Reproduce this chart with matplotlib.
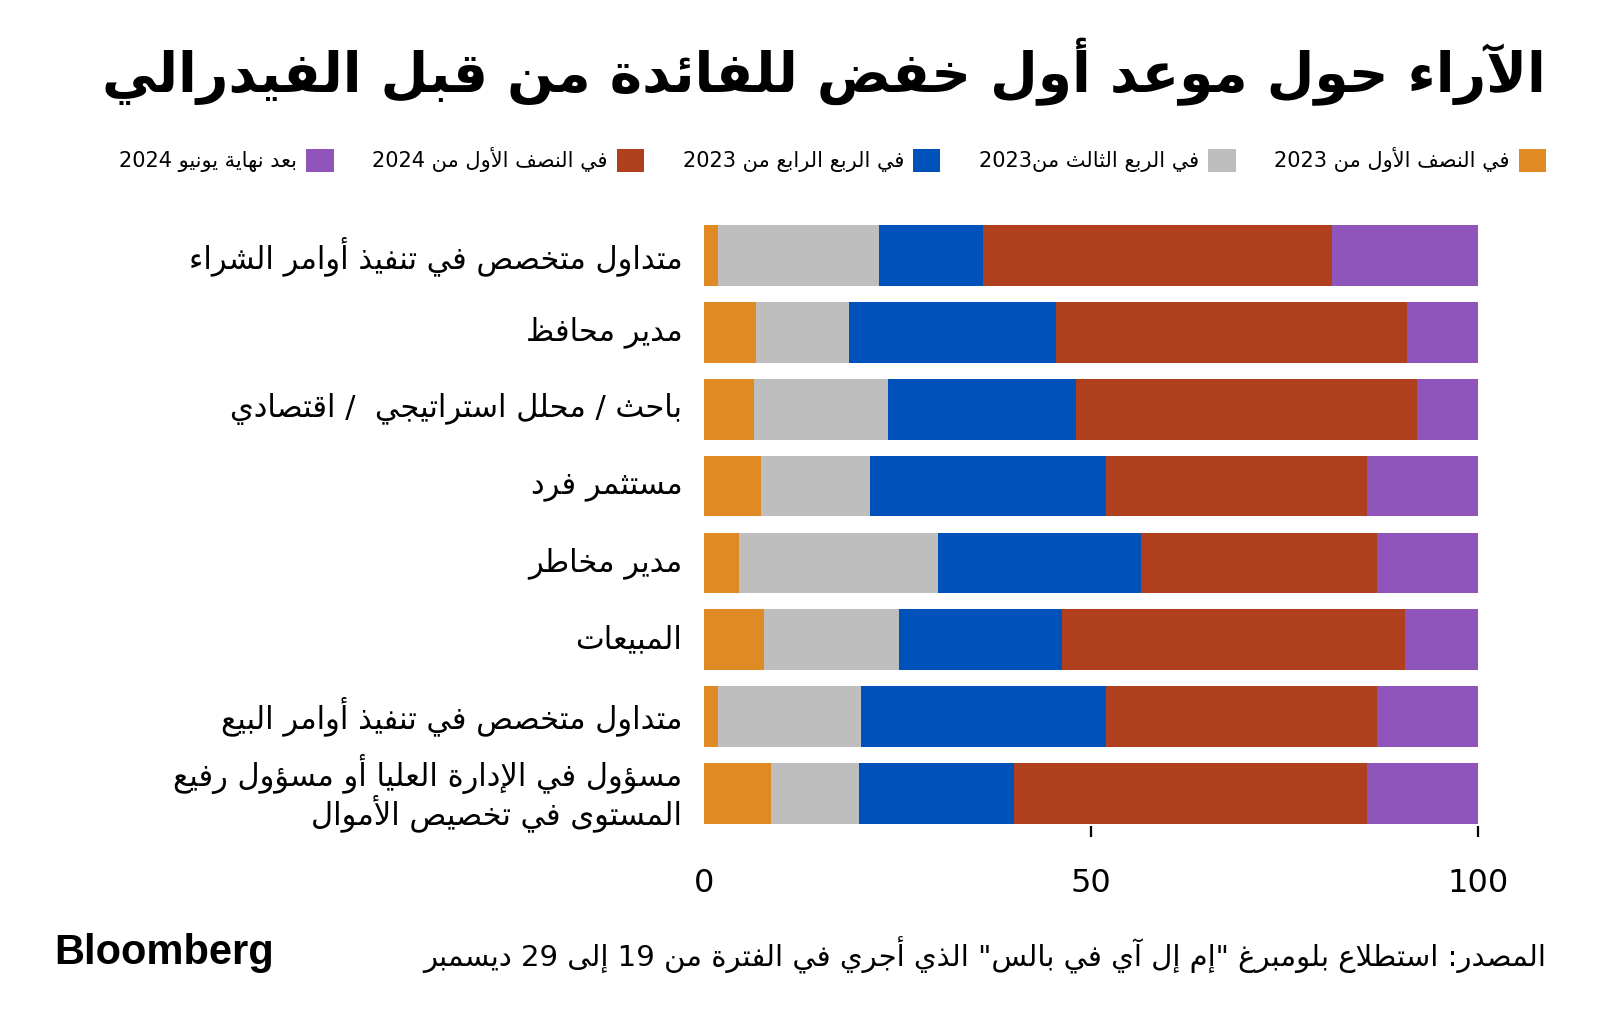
import re
import numpy as np
import matplotlib
matplotlib.use("Agg")
import matplotlib.pyplot as plt
from matplotlib.patches import Patch
from matplotlib.transforms import blended_transform_factory

# forme presentation arabe (base, nb de formes)
FORMS = {
    'ء': (0xFE80, 1), 'آ': (0xFE81, 2), 'أ': (0xFE83, 2), 'ؤ': (0xFE85, 2),
    'إ': (0xFE87, 2), 'ئ': (0xFE89, 4), 'ا': (0xFE8D, 2), 'ب': (0xFE8F, 4),
    'ة': (0xFE93, 2), 'ت': (0xFE95, 4), 'ث': (0xFE99, 4), 'ج': (0xFE9D, 4),
    'ح': (0xFEA1, 4), 'خ': (0xFEA5, 4), 'د': (0xFEA9, 2), 'ذ': (0xFEAB, 2),
    'ر': (0xFEAD, 2), 'ز': (0xFEAF, 2), 'س': (0xFEB1, 4), 'ش': (0xFEB5, 4),
    'ص': (0xFEB9, 4), 'ض': (0xFEBD, 4), 'ط': (0xFEC1, 4), 'ظ': (0xFEC5, 4),
    'ع': (0xFEC9, 4), 'غ': (0xFECD, 4), 'ف': (0xFED1, 4), 'ق': (0xFED5, 4),
    'ك': (0xFED9, 4), 'ل': (0xFEDD, 4), 'م': (0xFEE1, 4), 'ن': (0xFEE5, 4),
    'ه': (0xFEE9, 4), 'و': (0xFEED, 2), 'ى': (0xFEEF, 2), 'ي': (0xFEF1, 4),
}
LAM_ALEF = {'ا': 0xFEFB, 'أ': 0xFEF7, 'إ': 0xFEF9, 'آ': 0xFEF5}


def shape_line(s):
    items = []
    i = 0
    while i < len(s):
        c = s[i]
        if c == 'ل' and i + 1 < len(s) and s[i + 1] in LAM_ALEF:
            items.append((c, LAM_ALEF[s[i + 1]], 2))
            i += 2
            continue
        if c in FORMS:
            items.append((c,) + FORMS[c])
        else:
            items.append((c, None, 0))
        i += 1
    res = []
    for k, (c, base, n) in enumerate(items):
        if base is None:
            res.append(c)
            continue
        prev = items[k - 1] if k > 0 else None
        nxt = items[k + 1] if k + 1 < len(items) else None
        jp = prev is not None and prev[1] is not None and prev[2] == 4
        jn = n == 4 and nxt is not None and nxt[1] is not None and nxt[2] >= 2
        if n == 1:
            f = base
        elif n == 2:
            f = base + (1 if jp else 0)
        else:
            f = base + (3 if (jp and jn) else 1 if jp else 2 if jn else 0)
        res.append(chr(f))
    vis = ''.join(res)[::-1]
    vis = re.sub(r'[0-9A-Za-z.,]+', lambda m: m.group(0)[::-1], vis)
    return vis


def ar(s):
    return '\n'.join(shape_line(l) for l in s.split('\n'))


# Datos
categories = [
    "متداول متخصص في تنفيذ أوامر الشراء",
    "مدير محافظ",
    "باحث / محلل استراتيجي  / اقتصادي",
    "مستثمر فرد",
    "مدير مخاطر",
    "المبيعات",
    "متداول متخصص في تنفيذ أوامر البيع",
    "مسؤول في الإدارة العليا أو مسؤول رفيع\nالمستوى في تخصيص الأموال",
]
h1_2023 = [1.8, 6.7, 6.5, 7.4, 4.5, 7.7, 1.8, 8.6]
q3_2023 = [20.8, 12.0, 17.3, 14.1, 25.7, 17.5, 18.5, 11.4]
q4_2023 = [13.4, 26.8, 24.2, 30.4, 26.2, 21.0, 31.6, 20.1]
h1_2024 = [45.2, 45.3, 44.1, 33.7, 30.6, 44.4, 35.1, 45.6]
after_jun_2024 = [18.8, 9.2, 7.9, 14.4, 13.0, 9.4, 13.0, 14.3]

series_names = [
    "في النصف الأول من 2023",
    "في الربع الثالث من2023",
    "في الربع الرابع من 2023",
    "في النصف الأول من 2024",
    "بعد نهاية يونيو 2024",
]
colors = ['#DF8A25', '#BEBEBE', '#0052BA', '#B03F1D', '#8F55BA']
series = [h1_2023, q3_2023, q4_2023, h1_2024, after_jun_2024]

plt.rcParams['font.family'] = ['DejaVu Sans']

fig = plt.figure(figsize=(16, 10.32), dpi=100)
ax = fig.add_axes([0.44, 0.1993, 0.48375, 0.5849])

y = np.arange(len(categories))
left = np.zeros(len(categories))
for vals, col in zip(series, colors):
    ax.barh(y, vals, left=left, height=0.79, color=col, linewidth=0)
    left += np.array(vals)

ax.set_xlim(0, 100)
ax.set_ylim(7.43, -0.43)
ax.set_yticks([])
ax.set_xticks([0, 50, 100])
ax.set_xticklabels(['0', '50', '100'], fontsize=23)
ax.tick_params(axis='x', length=8, width=1.6, pad=22, color='black')
ax.xaxis.get_major_ticks()[0].tick1line.set_visible(False)
for s in ax.spines.values():
    s.set_visible(False)

tr = blended_transform_factory(ax.transAxes, ax.transData)
for yi, cat in zip(y, categories):
    ax.text(-0.028, yi, ar(cat), transform=tr, ha='right', va='center',
            multialignment='right', fontsize=22, linespacing=1.0)

# titulo
fig.text(1546 / 1600, 1 - 92 / 1032, ar("الآراء حول موعد أول خفض للفائدة من قبل الفيدرالي"),
         ha='right', va='baseline', fontsize=39.5, fontweight='bold')

# leyenda
handles = [Patch(facecolor=c, edgecolor='none') for c in colors]
labels = [ar(n) for n in series_names]
fig.legend(handles[::-1], labels[::-1], loc='center right',
           bbox_to_anchor=(1546 / 1600, 1 - 160 / 1032), ncol=5, frameon=False,
           markerfirst=False, fontsize=15, handlelength=1.3, handleheight=1.3,
           handletextpad=0.45, columnspacing=1.85, borderaxespad=0, borderpad=0)

# pie
fig.text(1546 / 1600, 1 - 966 / 1032,
         ar('المصدر: استطلاع بلومبرغ "إم إل آي في بالس" الذي أجري في الفترة من 19 إلى 29 ديسمبر'),
         ha='right', va='baseline', fontsize=21)
fig.text(54 / 1600, 1 - 964 / 1032, 'Bloomberg', ha='left', va='baseline',
         fontsize=30, fontweight='bold', family='Liberation Sans')

fig.savefig('out.png', dpi=100, facecolor='white')
